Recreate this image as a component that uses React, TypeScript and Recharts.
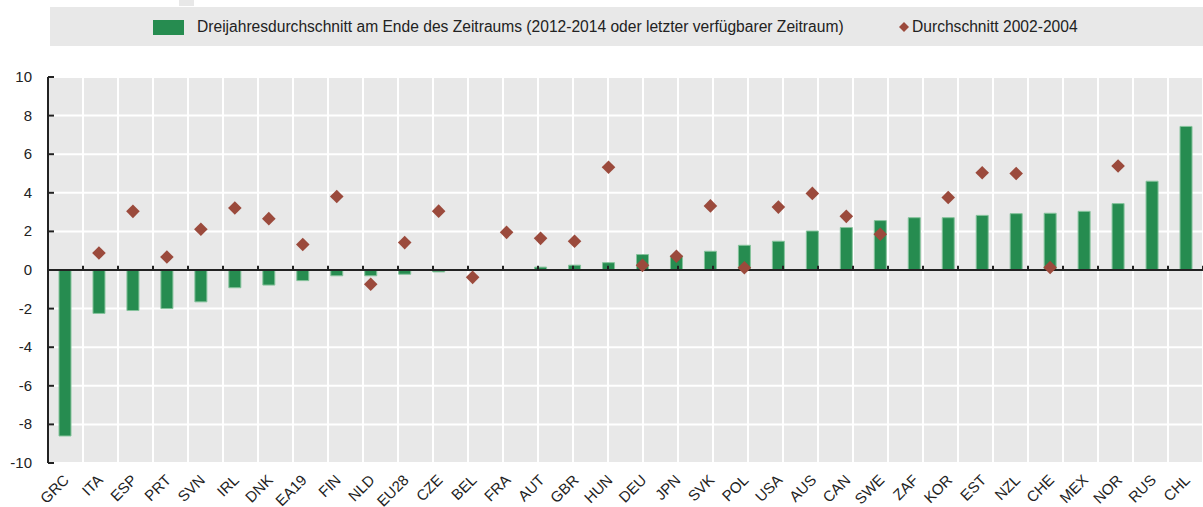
import { ComposedChart, Bar, Line, XAxis, YAxis, CartesianGrid, ReferenceLine } from 'recharts';

const categories = [
  'GRC', 'ITA', 'ESP', 'PRT', 'SVN', 'IRL', 'DNK', 'EA19', 'FIN', 'NLD', 'EU28', 'CZE',
  'BEL', 'FRA', 'AUT', 'GBR', 'HUN', 'DEU', 'JPN', 'SVK', 'POL', 'USA', 'AUS', 'CAN',
  'SWE', 'ZAF', 'KOR', 'EST', 'NZL', 'CHE', 'MEX', 'NOR', 'RUS', 'CHL',
];

// Dreijahresdurchschnitt am Ende des Zeitraums
const endValues = [
  -8.6, -2.25, -2.1, -2.0, -1.65, -0.92, -0.78, -0.55, -0.3, -0.3, -0.22, -0.1,
  0, 0.02, 0.15, 0.25, 0.38, 0.8, 0.72, 0.97, 1.28, 1.49, 2.02, 2.2,
  2.56, 2.71, 2.71, 2.83, 2.92, 2.94, 3.04, 3.44, 4.6, 7.44,
];

// Durchschnitt 2002-2004
const avgValues: (number | null)[] = [
  null, 0.88, 3.04, 0.67, 2.11, 3.21, 2.66, 1.32, 3.81, -0.74, 1.42, 3.05,
  -0.38, 1.95, 1.64, 1.49, 5.32, 0.24, 0.71, 3.32, 0.12, 3.26, 3.97, 2.78,
  1.85, null, 3.76, 5.04, 5.0, 0.13, null, 5.39, null, null,
];

const yTicks = [-10, -8, -6, -4, -2, 0, 2, 4, 6, 8, 10];

const barLabel = 'Dreijahresdurchschnitt am Ende des Zeitraums (2012-2014 oder letzter verfügbarer Zeitraum)';
const dotLabel = 'Durchschnitt 2002-2004';

const data = categories.map((c, i) => ({ name: c, end: endValues[i], avg: avgValues[i] }));
const boundaries = [...categories.map((_, i) => i), categories.length];

const FONT = '"Liberation Sans", Arial, sans-serif';
const GREEN = '#268c50';
const RED = '#9b4a3c';
const PANEL = '#e8e8e8';

const YTick = ({ x, y, payload }: any) => (
  <g>
    <line x1={x} x2={x + 6} y1={y} y2={y} stroke="#222" strokeWidth={2} />
    <text x={x - 16} y={y} dy={5} textAnchor="end" fontSize={15} fill="#222" fontFamily={FONT}>
      {payload.value}
    </text>
  </g>
);

const XTick = ({ x, y, payload }: any) => (
  <text
    transform={`translate(${x + 5},${y + 10}) rotate(-45)`}
    textAnchor="end"
    fontSize={15}
    fill="#222"
    fontFamily={FONT}
  >
    {payload.value}
  </text>
);

const Diamond = (props: any) => {
  const { cx, cy, value, index } = props;
  if (value == null || cy == null) return <g key={`d-${index}`} />;
  const r = 6.8;
  return (
    <path
      key={`d-${index}`}
      d={`M${cx},${cy - r}L${cx + r},${cy}L${cx},${cy + r}L${cx - r},${cy}Z`}
      fill={RED}
    />
  );
};

export default function App() {
  return (
    <div style={{ position: 'absolute', left: 0, top: 0, width: 1203, height: 507, background: '#fff', fontFamily: FONT }}>
      <div style={{ position: 'absolute', left: 179, top: 0, width: 15, height: 6, background: PANEL }} />
      <div style={{ position: 'absolute', left: 50, top: 7, width: 1153, height: 39, background: PANEL }}>
        <div style={{ position: 'absolute', left: 103, top: 13, width: 31, height: 15, background: GREEN }} />
        <div style={{ position: 'absolute', left: 147, top: 11, fontSize: 15.6, color: '#222', whiteSpace: 'nowrap', lineHeight: '17px' }}>
          {barLabel}
        </div>
        <svg style={{ position: 'absolute', left: 849, top: 15 }} width={10} height={10}>
          <path d="M5,0L10,5L5,10L0,5Z" fill={RED} />
        </svg>
        <div style={{ position: 'absolute', left: 862, top: 11, fontSize: 15.6, color: '#222', whiteSpace: 'nowrap', lineHeight: '17px' }}>
          {dotLabel}
        </div>
      </div>
      <ComposedChart
        width={1203}
        height={507}
        data={data}
        margin={{ top: 77, right: 0, bottom: 0, left: 0 }}
        style={{ position: 'absolute', left: 0, top: 0 }}
      >
        <CartesianGrid
          xAxisId="num"
          fill={PANEL}
          stroke="#fff"
          strokeWidth={2}
          fillOpacity={1}
        />
        <XAxis
          dataKey="name"
          interval={0}
          axisLine={false}
          tickLine={false}
          height={44}
          tick={<XTick />}
        />
        <XAxis
          xAxisId="num"
          type="number"
          domain={[0, categories.length]}
          ticks={boundaries}
          allowDataOverflow
          hide
        />
        <YAxis
          domain={[-10, 10]}
          ticks={yTicks}
          interval={0}
          width={48}
          tickSize={0}
          tickMargin={0}
          tickLine={false}
          axisLine={{ stroke: '#222', strokeWidth: 2 }}
          tick={<YTick />}
        />
        {boundaries.map((b) => (
          <ReferenceLine
            key={`t-${b}`}
            xAxisId="num"
            segment={[{ x: b, y: 0 }, { x: b, y: 0.22 }]}
            stroke="#222"
            strokeWidth={2}
          />
        ))}
        <Bar dataKey="end" fill={GREEN} stroke="#86c39c" strokeWidth={1} barSize={12} isAnimationActive={false} />
        <ReferenceLine y={0} stroke="#222" strokeWidth={2} />
        <Line
          dataKey="avg"
          stroke="none"
          dot={Diamond}
          activeDot={false}
          connectNulls={false}
          isAnimationActive={false}
        />
      </ComposedChart>
    </div>
  );
}
